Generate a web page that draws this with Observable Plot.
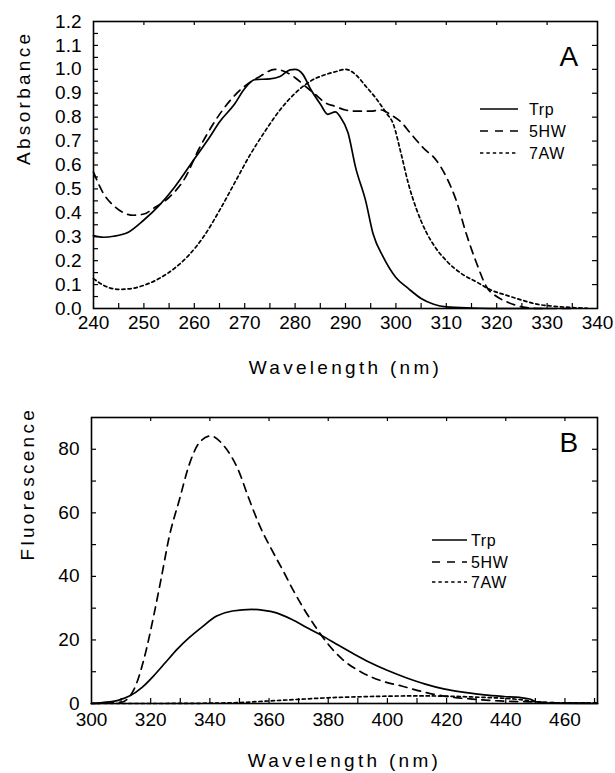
<!DOCTYPE html>
<html>
<head>
<meta charset="utf-8">
<script src="https://cdn.jsdelivr.net/npm/d3@7"></script>
<script src="https://cdn.jsdelivr.net/npm/@observablehq/plot@0.6"></script>
<style>
  html, body { margin: 0; padding: 0; background: #fff; }
  #wrap { position: relative; width: 615px; height: 773px; font-family: "Liberation Sans", Arial, sans-serif; }
  #wrap svg { display: block; }
  .axtitle text { letter-spacing: 3.3px; }
</style>
</head>
<body>
<div id="wrap"></div>
<script>
// ---------- Panel A: absorbance ----------
const absTrpX = [240,242,244,247,250,253,256,260,263,265,268,270,272,275,277,279,280,281.5,283,285,286.5,288,289,290.5,292,294,295.5,297.5,300,302.5,305,307.5,310,315,320,330];
const absTrpY = [0.305,0.298,0.302,0.32,0.37,0.43,0.505,0.625,0.715,0.78,0.855,0.92,0.957,0.96,0.97,0.998,1.0,0.98,0.92,0.855,0.812,0.822,0.80,0.735,0.59,0.45,0.31,0.215,0.13,0.083,0.042,0.018,0.007,0.002,0.0,0.0];

const abs5HWX = [240,242,244,246,248,250,252,255,258,261,264,267,270,273,276,278,280,282,284,286,288,290,292,295,297,299,301,303,305.5,308,310,312,314,316,318,320,322,325,328,335];
const abs5HWY = [0.57,0.48,0.43,0.40,0.39,0.395,0.42,0.465,0.54,0.67,0.78,0.867,0.93,0.97,1.0,0.99,0.965,0.93,0.895,0.86,0.845,0.83,0.825,0.825,0.83,0.81,0.78,0.73,0.67,0.62,0.55,0.45,0.31,0.19,0.09,0.05,0.028,0.007,0.0,0.0];

const abs7AWX = [240,242,245,247,250,253,256,259,262,265,268,271,274,277,280,283,286,288,290,292,294,296,298,299.5,301,302.5,304,306,308,310,313,316,319,322,325,328,331,335,338];
const abs7AWY = [0.125,0.097,0.08,0.082,0.097,0.125,0.167,0.225,0.305,0.41,0.525,0.64,0.74,0.83,0.90,0.95,0.978,0.99,1.0,0.978,0.93,0.88,0.82,0.77,0.65,0.52,0.42,0.32,0.25,0.20,0.146,0.111,0.076,0.055,0.035,0.018,0.01,0.004,0.001];

// ---------- Panel B: fluorescence ----------
const fluTrpX = [300,303.7,309,313,317,321,325,329,333,337,342.3,347.6,354.3,358.2,362.2,367.6,372.9,378.2,383.5,388.8,394.1,399.5,406.1,412.8,419.4,426.1,432.7,439.4,444.7,448,451.3,455,471];
const fluTrpY = [0,0.3,1.0,2.4,5.0,8.7,12.9,17.1,20.7,23.8,27.5,29.1,29.6,29.3,28.6,26.5,23.8,21.2,18.3,15.5,12.9,10.6,8.2,6.1,4.5,3.5,2.7,2.2,1.9,1.4,0.3,0.1,0];

const flu5HWX = [300,310,314.4,317.7,321.0,323.7,326.3,329.7,333.0,336.3,340.3,344.9,349.6,352.9,356.9,360.9,364.9,368.2,371.5,375.5,379.5,384.8,391.5,398.1,404.8,412.8,420.7,428.7,438.0,448.7,462,471];
const flu5HWY = [0,0.4,4.5,13.9,27.5,40.1,52.6,64.1,75.1,81.9,84.2,80.9,73.5,65.2,55.8,48.4,41.5,35.6,30.2,24.4,19.2,13.9,9.7,7.1,5.5,3.5,2.1,1.4,0.8,0.5,0.1,0.1];

const flu7AWX = [300,320,340,350,360,370,380,390,400,410,420,430,440,445,450,455,460,471];
const flu7AWY = [0,0,0.1,0.3,0.8,1.3,1.8,2.1,2.3,2.4,2.3,2.0,1.6,1.2,0.6,0.3,0.2,0.2];

const seriesNames = ["Trp", "5HW", "7AW"];
const absXTicks = d3.range(240, 341, 10);
const absYTicks = d3.range(0, 1.21, 0.1);
const fluXTicks = d3.range(300, 461, 20);
const fluYTicks = [0, 20, 40, 60, 80];

const FONT = '"Liberation Sans", Arial, sans-serif';
const dashes = {"Trp": null, "5HW": "8,6", "7AW": "3.2,3"};

function rows(xs, ys, name) { return xs.map((x, i) => ({x, y: ys[i], s: name})); }

function panel(cfg) {
  const innerW = cfg.width - cfg.ml - cfg.mr;
  const innerH = cfg.height - cfg.mt - cfg.mb;
  const lines = cfg.series.map(s => Plot.line(s.data, {
    x: "x", y: "y", stroke: "black", strokeWidth: 1.7, curve: "monotone-x",
    strokeDasharray: dashes[s.name]
  }));
  const svg = Plot.plot({
    width: cfg.width, height: cfg.height,
    marginLeft: cfg.ml, marginRight: cfg.mr, marginTop: cfg.mt, marginBottom: cfg.mb,
    style: {fontFamily: FONT, fontSize: "19px", color: "black", background: "white"},
    x: {domain: cfg.xDomain},
    y: {domain: cfg.yDomain},
    marks: [
      ...lines,
      Plot.tickX(cfg.xMinor, {x: d => d, insetTop: innerH - 5, stroke: "black", strokeWidth: 1.2}),
      Plot.tickX(cfg.xTop, {x: d => d, insetBottom: innerH - 4, stroke: "black", strokeWidth: 1.2}),
      Plot.tickY(cfg.yMinor, {y: d => d, insetRight: innerW - 5, stroke: "black", strokeWidth: 1.2}),
      Plot.tickY(cfg.yRight, {y: d => d, insetLeft: innerW - 5, stroke: "black", strokeWidth: 1.2}),
      Plot.frame({stroke: "black", strokeWidth: 1.6}),
      Plot.axisX(cfg.xTicks, {tickSize: 0, tickPadding: cfg.xPad, fontSize: 19, label: null, fill: "black"}),
      Plot.axisY(cfg.yTicks, {tickSize: 0, tickPadding: 12, fontSize: 19, label: null, tickFormat: cfg.yFormat, fill: "black"}),
      Plot.text([cfg.xLabel], {frameAnchor: "bottom", dy: cfg.xLabelDy, lineAnchor: "middle", fontSize: 19, className: "axtitle"}),
      Plot.text([cfg.yLabel], {frameAnchor: "left", dx: cfg.yLabelDx, rotate: -90, lineAnchor: "middle", fontSize: 19, className: "axtitle"}),
      Plot.text([cfg.letter], {frameAnchor: "top-right", dx: -38, dy: cfg.letterDy, textAnchor: "start", lineAnchor: "middle", fontSize: 28})
    ]
  });
  // legend (inside the plot frame)
  const g = d3.select(svg).append("g").attr("aria-label", "legend").attr("text-anchor", "start");
  cfg.series.forEach((s, i) => {
    const y = cfg.legend.y[i];
    g.append("line")
      .attr("x1", cfg.legend.x1).attr("x2", cfg.legend.x2)
      .attr("y1", y).attr("y2", y)
      .attr("stroke", "black").attr("stroke-width", 1.5)
      .attr("stroke-dasharray", s.name === "Trp" ? null : (s.name === "5HW" ? "8,7" : "3.4,3"));
    g.append("text")
      .attr("x", cfg.legend.tx).attr("y", y).attr("dy", "0.35em")
      .attr("text-anchor", "start")
      .attr("font-size", 16).attr("letter-spacing", "0.6px")
      .attr("font-family", FONT).attr("fill", "black")
      .text(s.name);
  });
  return svg;
}

const wrap = document.getElementById("wrap");

wrap.appendChild(panel({
  width: 615, height: 400, ml: 93, mr: 18, mt: 21, mb: 92,
  xDomain: [240, 340], yDomain: [0, 1.2],
  xTicks: absXTicks, yTicks: absYTicks, yFormat: d3.format(".1f"), xPad: 7,
  xMinor: d3.range(245, 340, 5), xTop: d3.range(250, 340, 10),
  yMinor: d3.range(0.05, 1.2, 0.05), yRight: d3.range(0.1, 1.2, 0.1),
  xLabel: "Wavelength (nm)", yLabel: "Absorbance",
  xLabelDy: 59, yLabelDx: -70, letter: "A", letterDy: 36,
  series: [
    {name: "Trp", data: rows(absTrpX, absTrpY, "Trp")},
    {name: "5HW", data: rows(abs5HWX, abs5HWY, "5HW")},
    {name: "7AW", data: rows(abs7AWX, abs7AWY, "7AW")}
  ],
  legend: {x1: 480, x2: 518, tx: 529, y: [109, 131, 153]}
}));

wrap.appendChild(panel({
  width: 615, height: 373, ml: 91, mr: 18, mt: 17, mb: 70,
  xDomain: [300, 471], yDomain: [0, 90],
  xTicks: fluXTicks, yTicks: fluYTicks, yFormat: d3.format("d"), xPad: 9,
  xMinor: d3.range(310, 471, 10), xTop: d3.range(320, 471, 20),
  yMinor: d3.range(10, 90, 10), yRight: d3.range(10, 90, 10),
  xLabel: "Wavelength (nm)", yLabel: "Fluorescence",
  xLabelDy: 57, yLabelDx: -64, letter: "B", letterDy: 26,
  series: [
    {name: "Trp", data: rows(fluTrpX, fluTrpY, "Trp")},
    {name: "5HW", data: rows(flu5HWX, flu5HWY, "5HW")},
    {name: "7AW", data: rows(flu7AWX, flu7AWY, "7AW")}
  ],
  legend: {x1: 432, x2: 467, tx: 471, y: [140, 162, 182]}
}));
</script>
</body>
</html>
